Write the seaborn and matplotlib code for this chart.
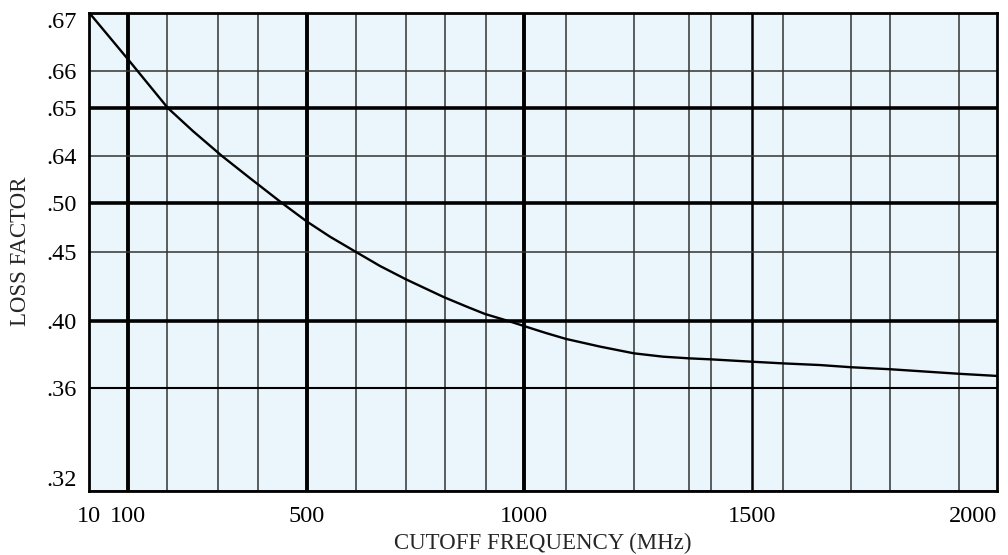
import numpy as np
import pandas as pd
import matplotlib
matplotlib.use("Agg")
import matplotlib.pyplot as plt
import seaborn as sns

# --- datos de la curva ---
freq_mhz = [10, 100, 189, 245, 310, 373, 444, 500, 553, 613, 668, 728, 816, 868, 910,
            964, 1000, 1046, 1092, 1167, 1241, 1305, 1362, 1410, 1500, 1563, 1639,
            1702, 1782, 1922, 2000]
loss = [.670, .662, .650, .6452, .640, .5736, .500, .481, .4656, .450, .4399, .4302,
        .4172, .4104, .4051, .400, .397, .393, .3893, .3847, .3807, .3787, .3777,
        .3771, .3757, .3747, .3737, .3724, .3712, .3685, .3672]

# ticks rotulados
x_ticks = [10, 100, 500, 1000, 1500, 2000]
y_ticks = [.32, .36, .40, .45, .50, .64, .65, .66, .67]
y_labels = [".32", ".36", ".40", ".45", ".50", ".64", ".65", ".66", ".67"]

# lineas de rejilla finas (MHz)
x_minor = [187, 300, 390, 613, 728, 818, 912, 1092, 1241, 1362, 1410, 1563, 1702, 1782, 1922]
x_bold = [100, 500, 1000]
x_medium = [1500]
y_bold = [.40, .50, .65]
y_medium = [.36]

# --- escala no uniforme del papel (posicion relativa de cada tick) ---
x_anchor_pos = [0, 39, 218, 435, 663, 908]
y_anchor_pos = [0, 103, 170, 239, 288, 335, 383, 420, 478.5]


def make_scale(vals, pos):
    vals = np.asarray(vals, float)
    pos = np.asarray(pos, float)

    def interp(v, a, b):
        v = np.asarray(v, float)
        out = np.interp(v, a, b)
        lo = (b[1] - b[0]) / (a[1] - a[0])
        hi = (b[-1] - b[-2]) / (a[-1] - a[-2])
        out = np.where(v < a[0], b[0] + (v - a[0]) * lo, out)
        out = np.where(v > a[-1], b[-1] + (v - a[-1]) * hi, out)
        return out

    return (lambda v: interp(v, vals, pos)), (lambda p: interp(p, pos, vals))


sns.set_style("white", {"axes.facecolor": "#ebf6fc"})
plt.rcParams['font.family'] = ['Liberation Serif', 'DejaVu Serif']

df = pd.DataFrame({"freq": freq_mhz, "loss": loss})

fig = plt.figure(figsize=(10.08, 5.55), dpi=100)
ax = fig.add_axes([89 / 1008, 1 - 491 / 555, (997 - 89) / 1008, (491 - 12.5) / 555])
ax.set_xscale("function", functions=make_scale(x_ticks, x_anchor_pos))
ax.set_yscale("function", functions=make_scale(y_ticks, y_anchor_pos))
ax.set_xlim(10, 2000)
ax.set_ylim(.32, .67)

# rejilla
for v in x_minor:
    ax.axvline(v, color="#333333", lw=1.1, zorder=1)
for v in x_medium:
    ax.axvline(v, color="black", lw=1.8, zorder=1)
for v in x_bold:
    ax.axvline(v, color="black", lw=2.8, zorder=1)
for v in y_ticks:
    if v in y_bold:
        ax.axhline(v, color="black", lw=2.6, zorder=1)
    elif v in y_medium:
        ax.axhline(v, color="black", lw=1.5, zorder=1)
    else:
        ax.axhline(v, color="#333333", lw=1.1, zorder=1)

sns.lineplot(data=df, x="freq", y="loss", ax=ax, color="black", lw=1.7, zorder=3)

ax.set_xticks(x_ticks)
ax.set_xticklabels([str(t) for t in x_ticks])
ax.set_yticks(y_ticks)
ax.set_yticklabels(y_labels)
ax.tick_params(axis="both", length=0, labelsize=17.5, colors="black")
ax.tick_params(axis="x", pad=11)
ax.tick_params(axis="y", pad=9)
xl = ax.get_xticklabels()
xl[-1].set_horizontalalignment("right")
yl = ax.get_yticklabels()
yl[0].set_verticalalignment("bottom")
yl[-1].set_verticalalignment("top")

ax.set_xlabel("CUTOFF FREQUENCY (MHz)", fontsize=16.5, labelpad=4)
ax.set_ylabel("LOSS FACTOR", fontsize=16.5, labelpad=11)

for s in ax.spines.values():
    s.set_visible(True)
    s.set_color("black")
    s.set_linewidth(2.0)
    s.set_zorder(4)

plt.savefig("out.png", dpi=100)
plt.close()
